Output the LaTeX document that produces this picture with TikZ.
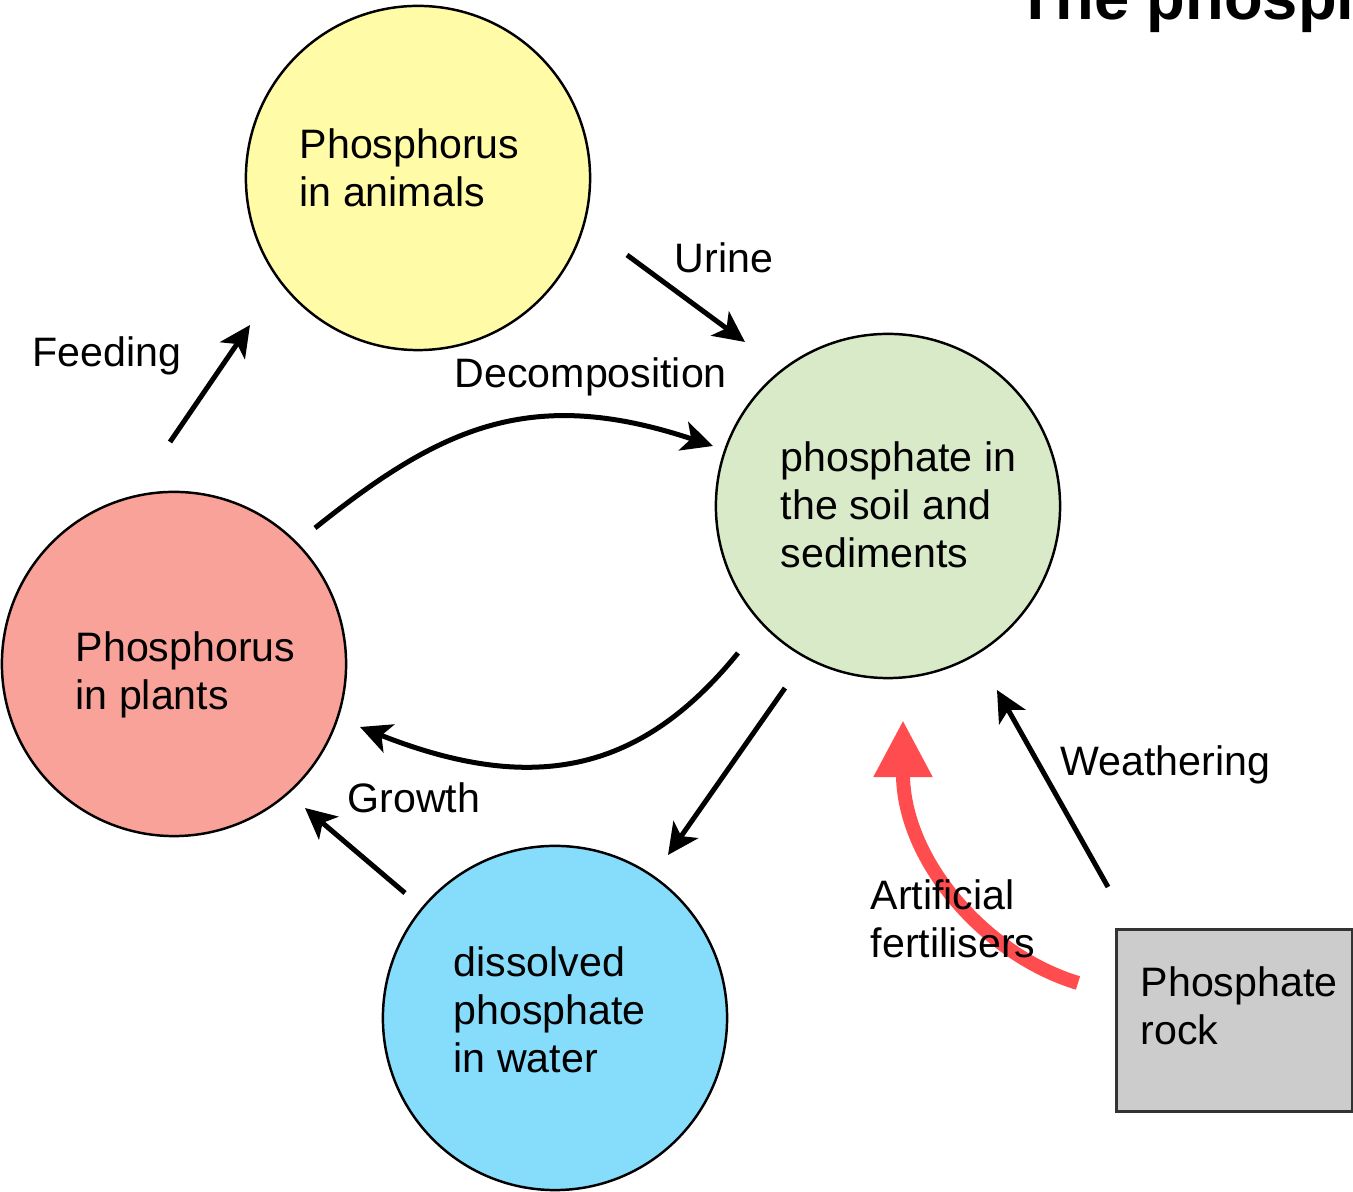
\documentclass[tikz,border=0pt]{standalone}
\usepackage{fontspec}
\setmainfont{Liberation Sans}
\usepackage{xcolor}
\usepackage{tikz}
\usetikzlibrary{arrows.meta}
\definecolor{animalfill}{HTML}{FFFBA6}
\definecolor{soilfill}{HTML}{D9EAC8}
\definecolor{plantfill}{HTML}{F9A29A}
\definecolor{waterfill}{HTML}{86DCFB}
\definecolor{rockfill}{HTML}{CCCCCC}
\definecolor{rockedge}{HTML}{333333}
\definecolor{fertred}{HTML}{FF4D4F}
\tikzstyle{pool} = [circle, minimum size=3.44cm, inner sep=0pt, draw=black, line width=0.7pt]
\tikzstyle{poolname} = [anchor=north west, align=left, inner sep=0pt, font=\fontsize{11.7}{13.7}\selectfont]
\tikzstyle{flowname} = [anchor=base west, inner sep=0pt, font=\fontsize{11.7}{13.7}\selectfont]
\tikzstyle{arrow} = [line width=0.05cm, -{Stealth[length=0.31cm, width=0.3cm, inset=0.08cm]}]
\tikzstyle{redarrow} = [line width=0.14cm, draw=fertred, -{Triangle[length=0.57cm, width=0.55cm, fill=fertred]}]

\begin{document}
\begin{tikzpicture}[x=0.01cm, y=-0.01cm]
\useasboundingbox (0,0) rectangle (1353,1192);

% Title (cut off at the page edge)
\node (title) [anchor=base west, inner sep=0pt, font=\bfseries\fontsize{18}{21}\selectfont] at (1016,20) {The phosphorus cycle};

% Pools
\node (animals) [pool, fill=animalfill] at (418,178) {};
\node (soil) [pool, fill=soilfill] at (888,506) {};
\node (plants) [pool, fill=plantfill] at (174,664) {};
\node (water) [pool, fill=waterfill] at (555,1018) {};
\node (rock) [draw=rockedge, fill=rockfill, line width=0.9pt, anchor=north west, minimum width=2.36cm, minimum height=1.82cm] at (1115,928) {};

\node (animals-t) [poolname] at (299,128) {Phosphorus\\in animals};
\node (soil-t) [poolname] at (780,441) {phosphate in\\the soil and\\sediments};
\node (plants-t) [poolname] at (75,631) {Phosphorus\\in plants};
\node (water-t) [poolname] at (453,946) {dissolved\\phosphate\\in water};
\node (rock-t) [poolname] at (1140,966) {Phosphate\\rock};

% Arrow ends
\coordinate (feed-s) at (170,442);
\coordinate (feed-e) at (250,325);
\coordinate (urine-s) at (627,255);
\coordinate (urine-e) at (745,342);
\coordinate (decomp-s) at (315,528);
\coordinate (decomp-e) at (713,446);
\coordinate (uptake-s) at (738,653);
\coordinate (uptake-e) at (360,727);
\coordinate (growth-s) at (405,893);
\coordinate (growth-e) at (305,808);
\coordinate (runoff-s) at (785,688);
\coordinate (runoff-e) at (668,855);
\coordinate (weather-s) at (1108,887);
\coordinate (weather-e) at (997,690);
\coordinate (fert-s) at (1078,983);
\coordinate (fert-e) at (903,720);

% Arrows
\draw [redarrow] (fert-s) .. controls (985,955) and (903,860) .. (fert-e);
\draw [arrow] (feed-s) -- (feed-e);
\draw [arrow] (urine-s) -- (urine-e);
\draw [arrow] (decomp-s) .. controls (440,428) and (530,385) .. (decomp-e);
\draw [arrow] (uptake-s) .. controls (643,770) and (537,797) .. (uptake-e);
\draw [arrow] (growth-s) -- (growth-e);
\draw [arrow] (runoff-s) -- (runoff-e);
\draw [arrow] (weather-s) -- (weather-e);

% Labels
\node (feed-l) [flowname] at (32,367) {Feeding};
\node (urine-l) [flowname] at (674,273) {Urine};
\node (decomp-l) [flowname] at (454,388) {Decomposition};
\node (growth-l) [flowname] at (347,813) {Growth};
\node (weather-l) [flowname] at (1060,776) {Weathering};
\node (fert-l) [poolname] at (870,879) {Artificial\\fertilisers};

\end{tikzpicture}
\end{document}
